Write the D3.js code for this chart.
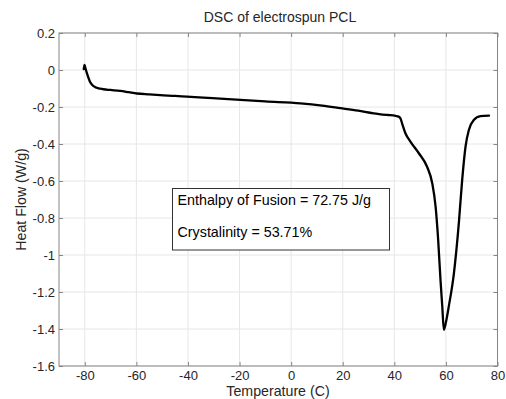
<!DOCTYPE html>
<html>
<head>
<meta charset="utf-8">
<script src="https://cdn.jsdelivr.net/npm/d3@7"></script>
<style>
  body { margin: 0; background: #fff; }
  svg { display: block; font-family: "Liberation Sans", Arial, sans-serif; }
</style>
</head>
<body>
<svg id="chart" width="506" height="399"></svg>
<script>
// DSC trace of electrospun PCL: temperature (C) and heat flow (W/g)
const temperature = [-80.4, -80.1, -79.8, -79.0, -78.0, -76.8, -75.4, -74.0, -72.8, -70.0, -66.3, -63.0,
  -59.8, -55.0, -50.8, -45.0, -40.4, -34.0, -27.5, -19.7, -10.0, 3.6, 12.0, 19.1, 26.0, 32.0, 37.2, 40.5,
  41.7, 42.4, 43.0, 44.3, 46.3, 49.5, 52.7, 54.7, 56.0, 57.0, 57.9, 58.6, 59.2, 60.2, 61.1, 63.1, 65.0,
  66.3, 67.6, 68.9, 70.8, 73.4, 76.7];
const heatFlow = [0.005, 0.028, 0.012, -0.025, -0.063, -0.085, -0.096, -0.101, -0.104, -0.108, -0.113, -0.12,
  -0.127, -0.132, -0.136, -0.14, -0.144, -0.149, -0.155, -0.162, -0.17, -0.18, -0.192, -0.206, -0.22, -0.234,
  -0.243, -0.248, -0.252, -0.262, -0.288, -0.342, -0.388, -0.45, -0.523, -0.612, -0.739, -0.919, -1.135,
  -1.28, -1.405, -1.35, -1.279, -1.099, -0.829, -0.595, -0.415, -0.324, -0.27, -0.249, -0.247];

const xTicks = [-80, -60, -40, -20, 0, 20, 40, 60, 80];
const yTicks = [0.2, 0, -0.2, -0.4, -0.6, -0.8, -1, -1.2, -1.4, -1.6];
const notes = ["Enthalpy of Fusion = 72.75 J/g", "Crystalinity = 53.71%"];

const svg = d3.select("#chart");
const m = { left: 59, right: 497.5, top: 33, bottom: 366 };

const x = d3.scaleLinear().domain([-90, 80]).range([m.left, m.right]);
const y = d3.scaleLinear().domain([-1.6, 0.2]).range([m.bottom, m.top]);

const plotW = m.right - m.left, plotH = m.bottom - m.top;
const tickCol = "#262626", boxCol = "#858585", gridCol = "#e6e6e6";

// grid
svg.append("g").selectAll("line.vg").data(xTicks).join("line")
  .attr("x1", d => x(d)).attr("x2", d => x(d)).attr("y1", m.top).attr("y2", m.bottom)
  .attr("stroke", gridCol).attr("stroke-width", 1);
svg.append("g").selectAll("line.hg").data(yTicks).join("line")
  .attr("y1", d => y(d)).attr("y2", d => y(d)).attr("x1", m.left).attr("x2", m.right)
  .attr("stroke", gridCol).attr("stroke-width", 1);

// axes with inward ticks
function styleAxis(g, hideText) {
  g.select(".domain").remove();
  g.selectAll(".tick line").attr("stroke", boxCol);
  g.selectAll(".tick text").attr("fill", tickCol).style("font-size", "13px");
  if (hideText) g.selectAll(".tick text").remove();
}
const fmt = d => (d === 0 ? "0" : d3.format("")(d)).replace("\u2212", "-");

svg.append("g").attr("transform", `translate(0,${m.bottom})`)
  .call(d3.axisBottom(x).tickValues(xTicks).tickSize(-4).tickPadding(5).tickFormat(fmt))
  .call(g => styleAxis(g, false));
svg.append("g").attr("transform", `translate(0,${m.top})`)
  .call(d3.axisTop(x).tickValues(xTicks).tickSize(-4))
  .call(g => styleAxis(g, true));
svg.append("g").attr("transform", `translate(${m.left},0)`)
  .call(d3.axisLeft(y).tickValues(yTicks).tickSize(-4).tickPadding(4).tickFormat(fmt))
  .call(g => styleAxis(g, false));
svg.append("g").attr("transform", `translate(${m.right},0)`)
  .call(d3.axisRight(y).tickValues(yTicks).tickSize(-4))
  .call(g => styleAxis(g, true));

// frame
svg.append("rect").attr("x", m.left).attr("y", m.top).attr("width", plotW).attr("height", plotH)
  .attr("fill", "none").attr("stroke", boxCol).attr("stroke-width", 1);

// curve
const pts = temperature.map((t, i) => [t, heatFlow[i]]);
svg.append("path").datum(pts)
  .attr("d", d3.line().x(d => x(d[0])).y(d => y(d[1])).curve(d3.curveMonotoneX))
  .attr("fill", "none").attr("stroke", "#000").attr("stroke-width", 2.3)
  .attr("stroke-linejoin", "round").attr("stroke-linecap", "round");

// annotation box
const box = svg.append("g");
box.append("rect").attr("x", 172.5).attr("y", 188.5).attr("width", 217).attr("height", 61.5)
  .attr("fill", "#fff").attr("stroke", "#333").attr("stroke-width", 1);
box.selectAll("text").data(notes).join("text")
  .attr("x", 177.5).attr("y", (d, i) => 204.5 + i * 32)
  .attr("fill", "#000").style("font-size", "14.3px").text(d => d);

// titles
svg.append("text").attr("x", 280).attr("y", 22).attr("text-anchor", "middle")
  .attr("fill", tickCol).style("font-size", "14px").text("DSC of electrospun PCL");
svg.append("text").attr("x", 278).attr("y", 396.3).attr("text-anchor", "middle")
  .attr("fill", tickCol).style("font-size", "14.2px").text("Temperature (C)");
svg.append("text").attr("transform", `translate(25.5,${(m.top + m.bottom) / 2}) rotate(-90)`)
  .attr("text-anchor", "middle").attr("fill", tickCol).style("font-size", "14.2px").text("Heat Flow (W/g)");
</script>
</body>
</html>
